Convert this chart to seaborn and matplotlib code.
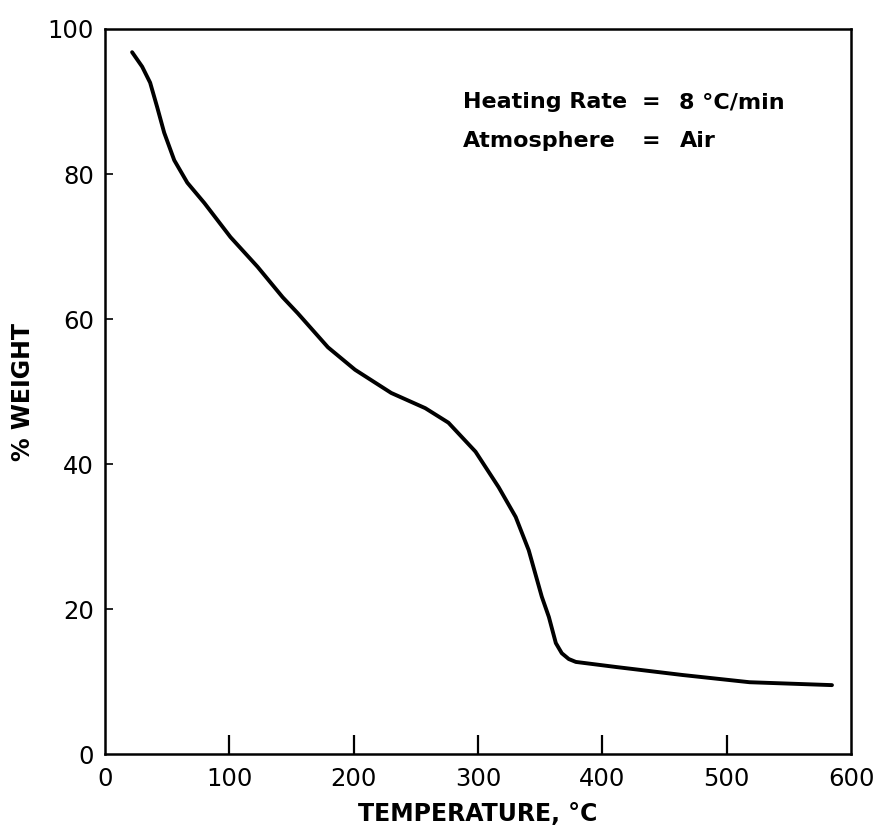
import matplotlib
matplotlib.use("Agg")
import matplotlib.pyplot as plt
import seaborn as sns
import pandas as pd

# Data
temperature = [21.8, 29.9, 36.3, 42.0, 47.6, 55.7, 66.2, 79.9, 100.9, 122.7,
               142.9, 155.0, 179.3, 201.1, 230.2, 257.6, 276.2, 298.0, 316.6,
               330.3, 340.8, 351.3, 357.0, 362.6, 367.4, 373.0, 378.7, 411.0,
               464.3, 518.4, 584.7]
weight = [96.8, 94.8, 92.6, 89.2, 85.7, 81.9, 78.8, 76.0, 71.3, 67.2,
          63.0, 60.8, 56.1, 53.0, 49.8, 47.7, 45.7, 41.7, 36.8,
          32.7, 28.1, 21.7, 18.9, 15.3, 13.9, 13.1, 12.7, 12.0,
          10.9, 9.9, 9.5]

x_ticks = [0, 100, 200, 300, 400, 500, 600]
y_ticks = [0, 20, 40, 60, 80, 100]
x_label = "TEMPERATURE, °C"
y_label = "% WEIGHT"
note_keys = ["Heating Rate", "Atmosphere"]
note_vals = ["8 °C/min", "Air"]

df = pd.DataFrame({"T": temperature, "W": weight})

sns.set_style("ticks")
plt.rcParams["font.family"] = ["DejaVu Sans"]
plt.rcParams["text.color"] = "black"
plt.rcParams["axes.labelcolor"] = "black"

fig = plt.figure(figsize=(8.83, 8.38), dpi=100)
ax = fig.add_axes([105 / 883, 1 - 754 / 838, (851 - 105) / 883, (754 - 29) / 838])

sns.lineplot(data=df, x="T", y="W", ax=ax, color="black", linewidth=2.8, sort=False)

ax.set_xlim(0, 600)
ax.set_ylim(0, 100)
ax.set_xticks(x_ticks)
ax.set_yticks(y_ticks)
ax.set_xticklabels([str(t) for t in x_ticks], fontsize=17.5)
ax.set_yticklabels([str(t) for t in y_ticks], fontsize=17.5)
ax.tick_params(axis="x", direction="in", length=14, width=1.6, pad=9, colors="black")
ax.tick_params(axis="y", direction="in", length=6, width=1.2, pad=8, colors="black")

# no tick marks at the frame corners
xt = ax.xaxis.get_major_ticks()
xt[0].tick1line.set_visible(False)
xt[-1].tick1line.set_visible(False)
yt = ax.yaxis.get_major_ticks()
yt[0].tick1line.set_visible(False)
yt[-1].tick1line.set_visible(False)

for s in ax.spines.values():
    s.set_linewidth(1.8)
    s.set_color("black")

ax.set_xlabel(x_label, fontsize=17, fontweight="bold", labelpad=8)
ax.set_ylabel(y_label, fontsize=17, fontweight="bold", labelpad=9)

# Annotation block
ys = [89.9, 84.6]
for k, v, yy in zip(note_keys, note_vals, ys):
    ax.text(288, yy, k, fontsize=16, fontweight="bold", va="center", ha="left")
    ax.text(439, yy, "=", fontsize=16, fontweight="bold", va="center", ha="center")
    ax.text(462, yy, v, fontsize=16, fontweight="bold", va="center", ha="left")

fig.savefig("out.png", dpi=100, facecolor="white")
